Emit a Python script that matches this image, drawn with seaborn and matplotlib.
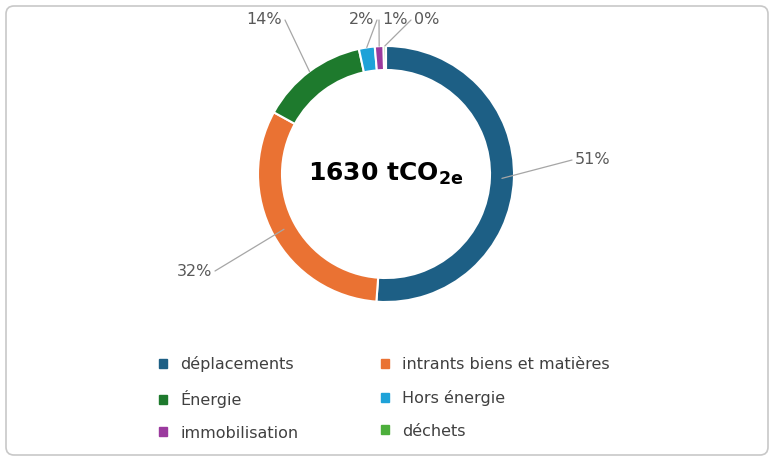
import numpy as np
import matplotlib
matplotlib.use('Agg')
import matplotlib.pyplot as plt
import seaborn as sns
from matplotlib.patches import FancyBboxPatch

# données du bilan carbone
categories = ["déplacements", "intrants biens et matières", "Énergie",
              "Hors énergie", "immobilisation", "déchets"]
values = [51.2, 31.8, 13.6, 2.0, 1.1, 0.3]
pct_labels = ["51%", "32%", "14%", "2%", "1%", "0%"]
colors = ["#1d5f85", "#ea7233", "#1e7a2d", "#1ea2d8", "#9b3a9e", "#4daf3c"]
total_label = "1630 tCO$_{\\mathbf{2e}}$"

# position des étiquettes (pixels) et alignement
label_pos = [(575, 301), (212, 190), (282, 441), (374, 441), (382, 441), (414, 441)]
label_ha = ["left", "right", "right", "right", "left", "left"]

sns.set_theme(style="white", font="DejaVu Sans")
W, H = 774, 461
fig = plt.figure(figsize=(W / 100, H / 100), dpi=100)
ax = fig.add_axes([0, 0, 1, 1])

cx, cy, r = 386, 287, 128
wedges, _ = ax.pie(values, colors=colors, startangle=90, counterclock=False,
                   center=(cx, cy), radius=r, frame=True,
                   wedgeprops=dict(width=24, edgecolor="white", linewidth=1.5))
ax.set_xlim(0, W)
ax.set_ylim(0, H)
ax.set_aspect("equal")
ax.axis("off")

ax.add_patch(FancyBboxPatch((6, 6), W - 12, H - 12, boxstyle="round,pad=0,rounding_size=8",
                            fc="none", ec="#c8c8c8", lw=1.2))

for w, lab, (lx, ly), ha in zip(wedges, pct_labels, label_pos, label_ha):
    ang = np.deg2rad((w.theta1 + w.theta2) / 2)
    rr = r - 12 if lab in ("51%", "32%") else r
    px, py = cx + rr * np.cos(ang), cy + rr * np.sin(ang)
    ex = lx - 3 if ha == "left" else lx + 3
    ax.plot([px, ex], [py, ly], color="#a6a6a6", lw=0.9)
    ax.text(lx, ly, lab, ha=ha, va="center", fontsize=11.5, color="#595959")

ax.text(cx, 287, total_label, ha="center", va="center", fontsize=18, fontweight="bold",
        color="black")

# légende (ordre colonne par colonne)
order = [0, 2, 4, 1, 3, 5]
handles = [plt.Rectangle((0, 0), 1, 1, color=colors[i]) for i in order]
ax.legend(handles, [categories[i] for i in order], ncol=2, loc="upper left",
          bbox_to_anchor=(145 / W, 1 - 342 / H), frameon=False, fontsize=11.5,
          handlelength=0.5, handleheight=0.5, columnspacing=5.2, labelspacing=1.1,
          labelcolor="#404040")

fig.savefig("out.png", dpi=100)
